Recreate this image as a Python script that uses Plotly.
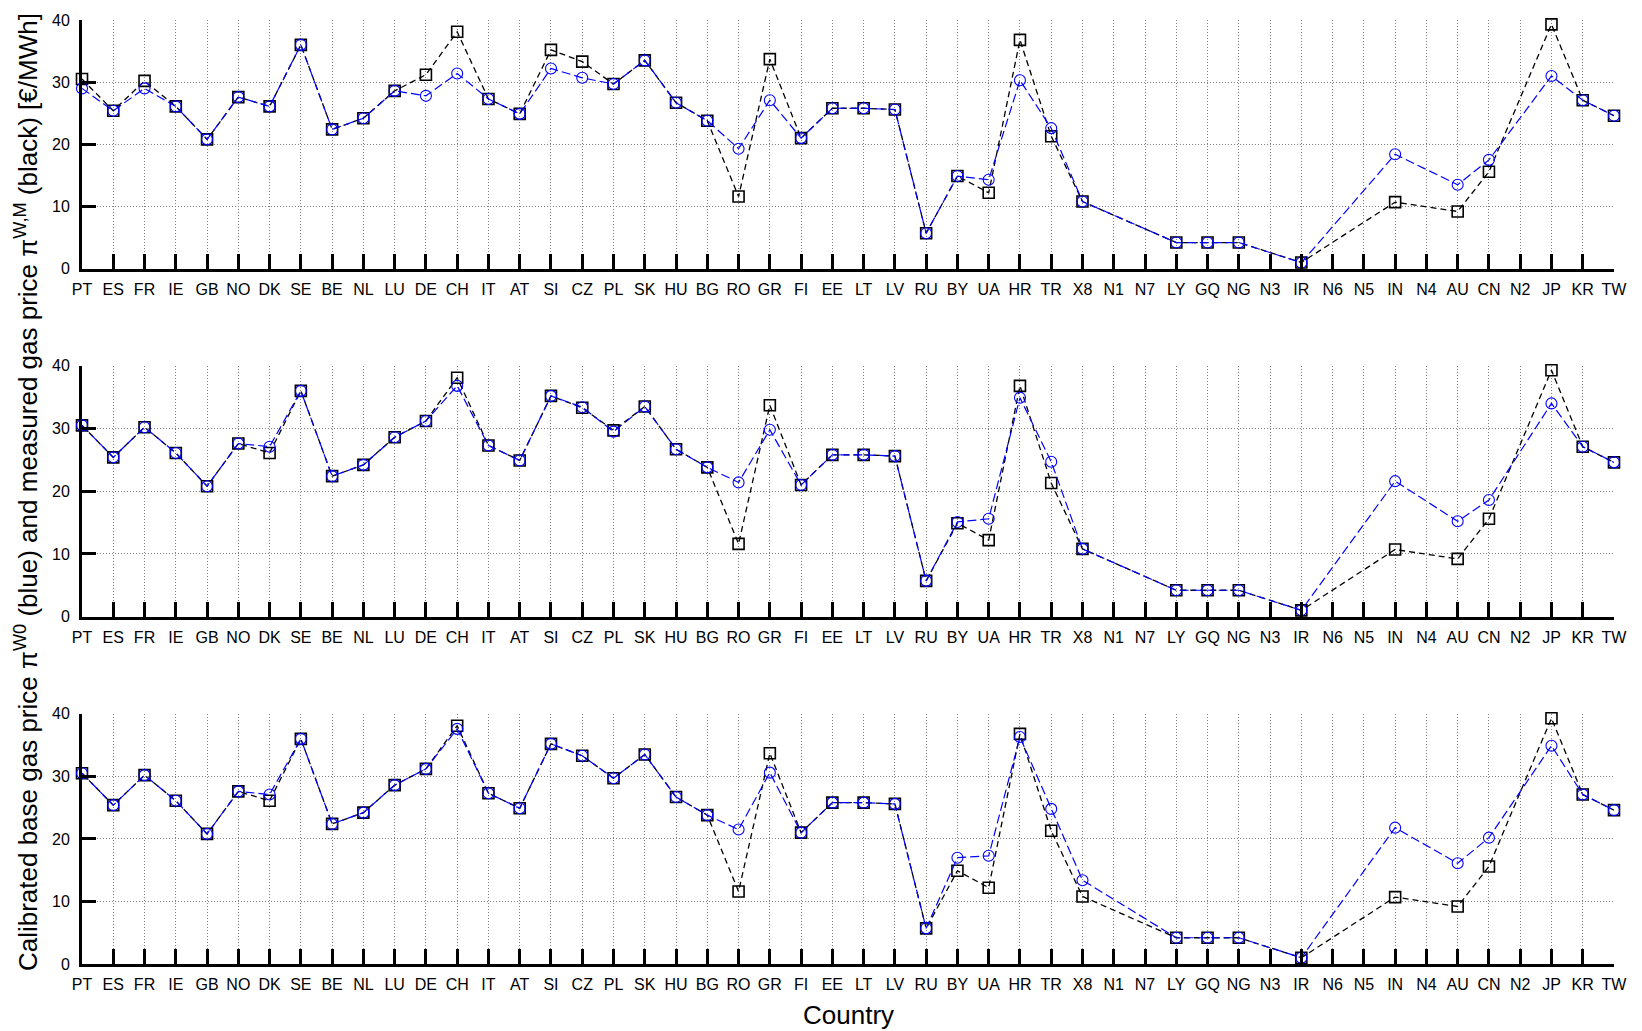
import plotly.graph_objects as go

# Country codes along the x axis
countries = ["PT", "ES", "FR", "IE", "GB", "NO", "DK", "SE", "BE", "NL",
             "LU", "DE", "CH", "IT", "AT", "SI", "CZ", "PL", "SK", "HU",
             "BG", "RO", "GR", "FI", "EE", "LT", "LV", "RU", "BY", "UA",
             "HR", "TR", "X8", "N1", "N7", "LY", "GQ", "NG", "N3", "IR",
             "N6", "N5", "IN", "N4", "AU", "CN", "N2", "JP", "KR", "TW"]

# Measured gas price pi^{W,M} [EUR/MWh] (None = no measurement)
measured = [30.5, 25.4, 30.2, 26.1, 20.8, 27.6, 26.1, 36.0, 22.4, 24.2,
            28.6, 31.2, 38.1, 27.3, 24.9, 35.2, 33.3, 29.7, 33.5, 26.7,
            23.8, 11.6, 33.7, 21.0, 25.8, 25.8, 25.6, 5.7, 14.9, 12.2,
            36.8, 21.3, 10.8, None, None, 4.2, 4.2, 4.2, None, 1.0,
            None, None, 10.7, None, 9.2, 15.6, None, 39.3, 27.1, 24.6]

# Calibrated base gas price pi^{W0}, one series per calibration run
calibrated_a = [29.0, 25.4, 29.0, 26.1, 20.8, 27.6, 26.1, 36.0, 22.4, 24.2,
                28.6, 27.8, 31.4, 27.3, 24.9, 32.2, 30.7, 29.7, 33.5, 26.7,
                23.8, 19.3, 27.1, 21.0, 25.8, 25.8, 25.6, 5.7, 14.9, 14.3,
                30.3, 22.6, 10.8, None, None, 4.2, 4.2, 4.2, None, 0.95,
                None, None, 18.4, None, 13.5, 17.5, None, 31.0, 27.1, 24.6]

calibrated_b = [30.5, 25.4, 30.2, 26.1, 20.8, 27.6, 27.1, 36.0, 22.4, 24.2,
                28.6, 31.2, 36.8, 27.3, 24.9, 35.2, 33.4, 29.5, 33.5, 26.7,
                23.8, 21.4, 29.8, 21.0, 25.8, 25.8, 25.6, 5.7, 15.1, 15.6,
                34.9, 24.7, 10.8, None, None, 4.2, 4.2, 4.2, None, 1.0,
                None, None, 21.6, None, 15.2, 18.6, None, 34.0, 27.1, 24.6]

calibrated_c = [30.5, 25.4, 30.2, 26.1, 20.8, 27.6, 27.1, 36.0, 22.4, 24.2,
                28.6, 31.2, 37.6, 27.3, 24.9, 35.2, 33.3, 29.7, 33.5, 26.7,
                23.8, 21.5, 30.6, 21.0, 25.8, 25.8, 25.6, 5.7, 17.0, 17.3,
                36.3, 24.8, 13.4, None, None, 4.2, 4.2, 4.2, None, 1.0,
                None, None, 21.8, None, 16.1, 20.2, None, 34.9, 27.1, 24.6]

y_ticks = [0, 10, 20, 30, 40]

FONT = "Arial, Liberation Sans, sans-serif"
panels = [calibrated_a, calibrated_b, calibrated_c]
domains = [[0.7366, 1.0], [0.368, 0.6337], [0.0, 0.265]]

fig = go.Figure()

for i, calib in enumerate(panels):
    suffix = "" if i == 0 else str(i + 1)
    xa, ya = "x" + suffix, "y" + suffix
    fig.add_trace(go.Scatter(
        x=countries, y=measured, xaxis=xa, yaxis=ya, mode="lines+markers",
        connectgaps=True, cliponaxis=False, showlegend=False,
        line=dict(color="black", width=1.3, dash="6px,4px"),
        marker=dict(symbol="square-open", size=11, color="black",
                    line=dict(width=1.6, color="black")),
    ))
    fig.add_trace(go.Scatter(
        x=countries, y=calib, xaxis=xa, yaxis=ya, mode="lines+markers",
        connectgaps=True, cliponaxis=False, showlegend=False,
        line=dict(color="#0000ff", width=1.2, dash="9px,4px"),
        marker=dict(symbol="circle-open", size=11, color="#0000ff",
                    line=dict(width=1.1, color="#0000ff")),
    ))

    common_x = dict(
        type="category", categoryorder="array", categoryarray=countries,
        range=[0, len(countries) - 1], domain=[0, 1], anchor=ya,
        showline=True, linecolor="black", linewidth=3,
        ticks="inside", ticklen=15, tickwidth=3, tickcolor="black",
        tickfont=dict(family=FONT, size=16, color="black"),
        ticklabelstandoff=4,
        showgrid=True, gridcolor="#808080", gridwidth=1, griddash="1px,2px",
        zeroline=False,
    )
    common_y = dict(
        range=[0, 40], domain=domains[i], anchor=xa,
        tickvals=y_ticks, ticktext=[str(v) for v in y_ticks],
        showline=True, linecolor="black", linewidth=3,
        ticks="inside", ticklen=14, tickwidth=3, tickcolor="black",
        tickfont=dict(family=FONT, size=16, color="black"),
        ticklabelstandoff=6,
        showgrid=True, gridcolor="#808080", gridwidth=1, griddash="1px,2px",
        zeroline=False,
    )
    fig.update_layout(**{"xaxis" + suffix: common_x, "yaxis" + suffix: common_y})

fig.add_annotation(
    xref="paper", yref="paper", x=-0.0365, y=0.5, xanchor="center", yanchor="middle",
    textangle=-90, showarrow=False,
    text="Calibrated base gas price π<sup>W0</sup> (blue) and measured gas price "
         "π<sup>W,M</sup> (black) [€/MWh]",
    font=dict(family=FONT, size=26, color="black"),
)
fig.add_annotation(
    xref="paper", yref="paper", x=0.5, y=-0.0536, xanchor="center", yanchor="middle",
    showarrow=False, text="Country",
    font=dict(family=FONT, size=26, color="black"),
)

fig.update_layout(
    width=1642, height=1031,
    margin=dict(l=82, r=28, t=13, b=67),
    paper_bgcolor="white", plot_bgcolor="white",
    font=dict(family=FONT, color="black"),
)

fig.write_html("out.html")
